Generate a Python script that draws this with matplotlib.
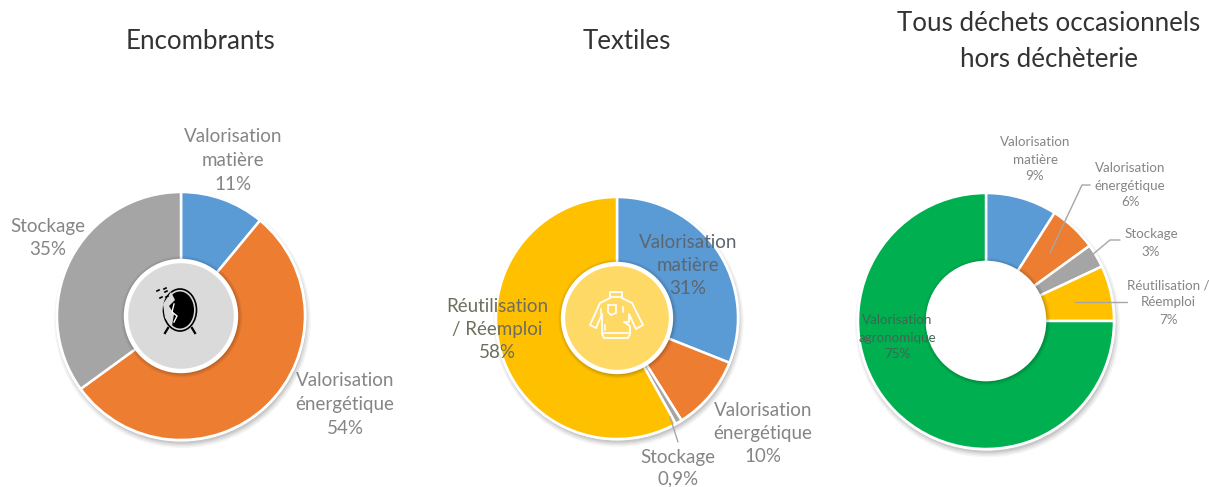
import matplotlib
matplotlib.use("Agg")
import matplotlib.pyplot as plt
from matplotlib.patches import Circle, Ellipse, Polygon

plt.rcParams['font.family'] = ['Lato', 'DejaVu Sans']

W, H = 1209, 487
BLUE, ORANGE, GREY, YELLOW, GREEN = '#5B9BD5', '#ED7D31', '#A5A5A5', '#FFC000', '#00B050'

encombrants_values = [11, 54, 35]
encombrants_colors = [BLUE, ORANGE, GREY]
textiles_values = [31, 10, 0.9, 58]
textiles_colors = [BLUE, ORANGE, GREY, YELLOW]
tous_values = [9, 6, 3, 7, 75]
tous_colors = [BLUE, ORANGE, GREY, YELLOW, GREEN]

fig = plt.figure(figsize=(W / 100, H / 100), dpi=100, facecolor='white')


def donut(cx, cy, R, r, values, colors, hole):
    m = 1.25
    ax = fig.add_axes([(cx - R * m) / W, 1 - (cy + R * m) / H, 2 * R * m / W, 2 * R * m / H])
    ax.set_xlim(-m, m)
    ax.set_ylim(-m, m)
    ax.set_aspect('equal')
    ax.axis('off')
    # soft shadow of the ring
    for i, a in enumerate([0.04, 0.05, 0.06, 0.08]):
        ax.add_patch(Circle((0.012, -0.03), 1.035 - i * 0.012, fc='black', ec='none', alpha=a, zorder=1))
    ax.add_patch(Circle((0, 0), 1.012, fc='white', ec='none', zorder=2))
    ax.pie(values, colors=colors, startangle=90, counterclock=False, radius=1, normalize=True,
           wedgeprops=dict(edgecolor='white', linewidth=1.8, zorder=3))
    ax.set_xlim(-m, m)
    ax.set_ylim(-m, m)
    k = r / R
    for i, a in enumerate([0.05, 0.07, 0.09]):
        ax.add_patch(Circle((0.006, -0.006), k + 0.045 - i * 0.012, fc='black', ec='none', alpha=a, zorder=4))
    ax.add_patch(Circle((0, 0), k + 0.018, fc='white', ec='none', zorder=5))
    ax.add_patch(Circle((0, 0), k - 0.018, fc=hole, ec='none', zorder=6))


donut(181, 316, 124, 55, encombrants_values, encombrants_colors, '#DADADA')
donut(617, 318, 121, 54, textiles_values, textiles_colors, '#FFD966')
donut(986, 321, 128, 58, tous_values, tous_colors, 'white')

# Overlay in pixel coordinates for text, leaders, icons
ov = fig.add_axes([0, 0, 1, 1], zorder=10)
ov.set_xlim(0, W)
ov.set_ylim(H, 0)
ov.axis('off')
ov.patch.set_alpha(0)

for s, x, y in [('Encombrants', 201, 41.5), ('Textiles', 627, 41.5),
                ('Tous déchets occasionnels', 1049, 23.5), ('hors déchèterie', 1049, 59.5)]:
    ov.text(x, y, s, ha='center', va='center', fontsize=18.6, fontweight='normal', color='#333333')


def label(lines, x, ys, size, color='#858585'):
    for s, y in zip(lines, ys):
        ov.text(x, y + 1.5, s, ha='center', va='center', fontsize=size, fontweight='normal', color=color)


S1, S3 = 13.5, 9.6
label(['Valorisation', 'matière', '11%'], 233, [135, 159, 183], S1)
label(['Stockage', '35%'], 48, [225, 248], S1)
label(['Valorisation', 'énergétique', '54%'], 345, [379, 403, 427], S1)
label(['Valorisation', 'matière', '31%'], 688, [241, 264, 287], S1, '#5b6670')
label(['Réutilisation', '/ Réemploi', '58%'], 497, [305, 328, 351], S1, '#6e6e5e')
label(['Valorisation', 'énergétique', '10%'], 763, [409, 432, 455], S1)
label(['Stockage', '0,9%'], 678, [456, 477], S1)
label(['Valorisation', 'matière', '9%'], 1035, [141, 158, 175], S3)
label(['Valorisation', 'énergétique', '6%'], 1130, [167, 184, 201], S3)
label(['Stockage', '3%'], 1151, [233, 250], S3)
label(['Réutilisation /', 'Réemploi', '7%'], 1168, [284, 301, 318], S3)
label(['Valorisation', 'agronomique', '75%'], 897, [318, 336, 353], S3, '#3f6650')

LEAD = '#A6A6A6'
for xs, ys in [([670, 678], [417, 442]),
               ([1050, 1082, 1090], [253, 185, 185]),
               ([1092, 1110, 1120], [255, 240, 240]),
               ([1075, 1127], [302, 302])]:
    ov.plot(xs, ys, color=LEAD, lw=1, solid_capstyle='round')

# Broken mirror icon
ov.add_patch(Ellipse((180, 310), 33, 42, fc='none', ec='black', lw=1.2))
ov.add_patch(Ellipse((180, 310), 28, 37, fc='black', ec='none'))
ov.add_patch(Polygon([(171, 292), (175, 300), (169, 306), (174, 314), (172, 326), (165, 318), (163, 304)],
                     fc='#DADADA', ec='none'))
ov.plot([174, 172, 177, 174], [304, 312, 316, 322], color='white', lw=1)
ov.plot([168, 165], [328, 333], color='black', lw=1.6)
ov.plot([192, 195], [328, 333], color='black', lw=1.6)
for x, y in [(157, 291), (165, 292), (160, 298), (166, 297), (164, 289)]:
    ov.plot([x, x + 2], [y, y - 1], color='black', lw=1.2)

# Sweater icon
sw = [(610, 292), (622, 292), (622, 298), (632, 303), (643, 325), (636, 329), (629, 314), (629, 322),
      (624, 322), (630, 326), (630, 334), (628, 338), (604, 338), (602, 334), (602, 314), (596, 328),
      (590, 325), (600, 303), (610, 298)]
ov.add_patch(Polygon(sw, fc='none', ec='white', lw=1.3, joinstyle='round'))
ov.plot([610, 622], [297, 297], color='white', lw=1.2)
ov.plot([604, 628], [333, 333], color='white', lw=1.2)
ov.add_patch(Polygon([(608, 305), (616, 305), (616, 313), (611, 315), (608, 312)], fc='none', ec='white', lw=1.2))
for x, y in [(623, 307), (605, 325), (601, 309)]:
    ov.plot([x, x], [y, y + 5], color='white', lw=1.1)

fig.savefig('out.png', dpi=100, facecolor='white')
